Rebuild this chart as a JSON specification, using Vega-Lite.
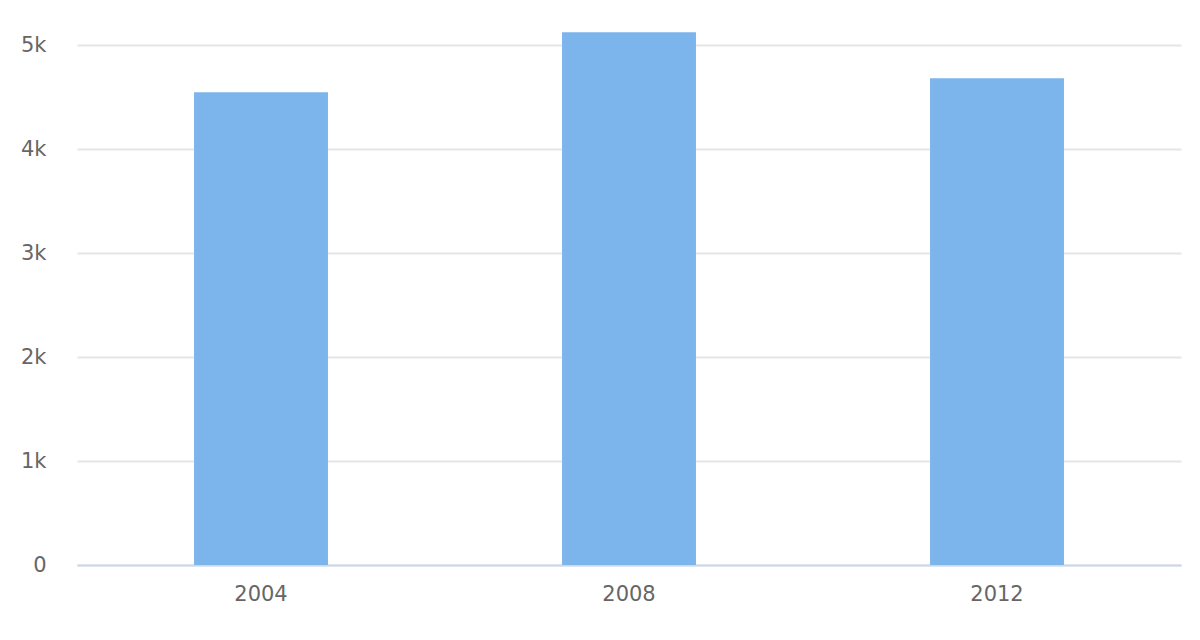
{
  "$schema": "https://vega.github.io/schema/vega-lite/v6.json",
  "width": 1104,
  "height": 520,
  "autosize": {"type": "none"},
  "padding": {"left": 77, "top": 45, "right": 19, "bottom": 75},
  "background": "#ffffff",
  "data": {
    "values": [
      {"year": "2004", "value": 4545},
      {"year": "2008", "value": 5122},
      {"year": "2012", "value": 4680}
    ]
  },
  "mark": {"type": "bar", "color": "#7cb5ec"},
  "encoding": {
    "x": {
      "field": "year",
      "type": "nominal",
      "title": null,
      "scale": {"paddingInner": 0.636, "paddingOuter": 0.318},
      "axis": {
        "labelAngle": 0,
        "labelFont": "DejaVu Sans",
        "labelFontSize": 21,
        "labelColor": "#666666",
        "labelPadding": 18,
        "ticks": false,
        "domainColor": "#ccd6eb",
        "domainWidth": 2,
        "grid": false
      }
    },
    "y": {
      "field": "value",
      "type": "quantitative",
      "title": null,
      "scale": {"domain": [0, 5000], "nice": false},
      "axis": {
        "values": [0, 1000, 2000, 3000, 4000, 5000],
        "labelExpr": "datum.value == 0 ? '0' : format(datum.value / 1000, 'd') + 'k'",
        "labelFont": "DejaVu Sans",
        "labelFontSize": 21,
        "labelColor": "#666666",
        "labelPadding": 31,
        "ticks": false,
        "domain": false,
        "gridColor": "#e6e6e6",
        "gridWidth": 2
      }
    }
  },
  "config": {"view": {"stroke": null}}
}
